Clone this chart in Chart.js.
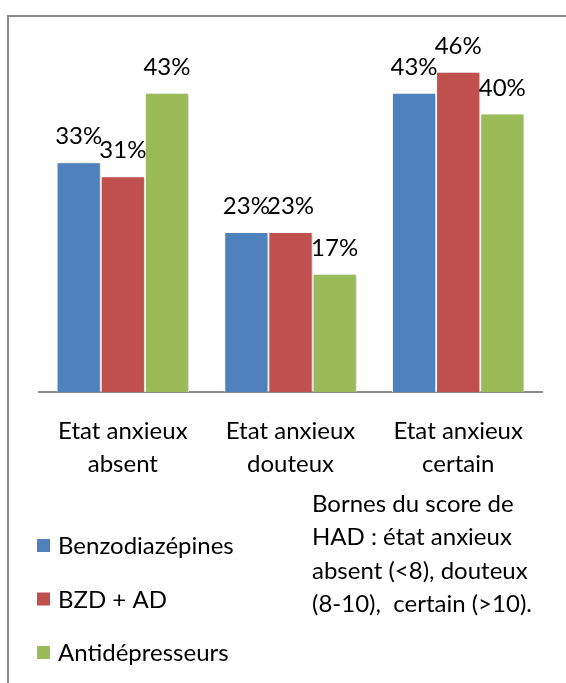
<!DOCTYPE html>
<html>
<head>
<meta charset="utf-8">
<script src="https://cdn.jsdelivr.net/npm/chart.js@4.4.1/dist/chart.umd.min.js"></script>
<style>
  html, body { margin: 0; padding: 0; background: #fff; overflow: hidden; }
  #frame {
    position: absolute; left: 7px; top: 15px; width: 620px; height: 720px;
    border-left: 2px solid #8c8c8c; border-top: 2px solid #8c8c8c;
  }
  #chart { position: absolute; left: 0; top: 0; }
</style>
</head>
<body>
<div id="frame"></div>
<canvas id="chart" width="566" height="683"></canvas>
<script>
// data
const categories = [["Etat anxieux", "absent"], ["Etat anxieux", "douteux"], ["Etat anxieux", "certain"]];
const seriesNames = ["Benzodiazépines", "BZD + AD", "Antidépresseurs"];
const benzo = [33, 23, 43];
const bzdAd = [31, 23, 46];
const antidep = [43, 17, 40];
const notes = ["Bornes du score de", "HAD : état anxieux", "absent (<8), douteux", "(8-10),  certain (>10)."];

const colors = ["#4F81BD", "#C0504D", "#9BBB59"];
const FONT = "Lato";
const SIZE = 24;

// shadow under the bars (excel style)
const barShadow = {
  id: "barShadow",
  beforeDatasetsDraw(chart) {
    const c = chart.ctx;
    c.save();
    c.shadowColor = "rgba(0,0,0,0.25)";
    c.shadowBlur = 3;
    c.shadowOffsetX = 1;
    c.shadowOffsetY = 1;
  },
  afterDatasetsDraw(chart) {
    chart.ctx.restore();
  }
};

// percent labels above each bar
const valueLabels = {
  id: "valueLabels",
  afterDatasetsDraw(chart) {
    const c = chart.ctx;
    c.save();
    c.font = SIZE + "px " + FONT;
    c.fillStyle = "#000";
    c.textAlign = "center";
    c.textBaseline = "alphabetic";
    chart.data.datasets.forEach((ds, i) => {
      chart.getDatasetMeta(i).data.forEach((bar, j) => {
        c.fillText(ds.data[j] + "%", bar.x, bar.y - 18);
      });
    });
    c.restore();
  }
};

// legend + note at the bottom
const bottomText = {
  id: "bottomText",
  afterDraw(chart) {
    const c = chart.ctx;
    c.save();
    c.font = SIZE + "px " + FONT;
    c.fillStyle = "#000";
    c.textAlign = "left";
    c.textBaseline = "alphabetic";
    chart.data.datasets.forEach((ds, i) => {
      const y = 554 + i * 53.5;
      c.fillStyle = ds.backgroundColor;
      c.fillRect(37, y - 15, 13, 13);
      c.fillStyle = "#000";
      c.fillText(ds.label, 58, y);
    });
    notes.forEach((line, i) => {
      c.fillText(line, 312, 512 + i * 33.4);
    });
    c.restore();
  }
};

new Chart(document.getElementById("chart"), {
  type: "bar",
  data: {
    labels: categories,
    datasets: [
      { label: seriesNames[0], data: benzo, backgroundColor: colors[0] },
      { label: seriesNames[1], data: bzdAd, backgroundColor: colors[1] },
      { label: seriesNames[2], data: antidep, backgroundColor: colors[2] },
    ].map(d => Object.assign(d, {
      borderColor: "#ffffff",
      borderWidth: 1,
      categoryPercentage: 0.79,
      barPercentage: 1.0,
    })),
  },
  options: {
    responsive: false,
    animation: false,
    layout: { padding: { left: 39, right: 24, top: 44, bottom: 0 } },
    plugins: {
      legend: { display: false },
      tooltip: { enabled: false },
    },
    scales: {
      y: {
        display: false,
        min: 0,
        max: 50,
      },
      x: {
        grid: { display: false, drawTicks: false },
        border: { display: true, color: "#8c8c8c", width: 2 },
        ticks: {
          color: "#000",
          padding: 23,
          font: { size: SIZE, family: FONT, lineHeight: 1.36 },
        },
        afterFit(scale) {
          scale.height = 683 - 392;
        },
      },
    },
  },
  plugins: [barShadow, valueLabels, bottomText],
});
</script>
</body>
</html>
